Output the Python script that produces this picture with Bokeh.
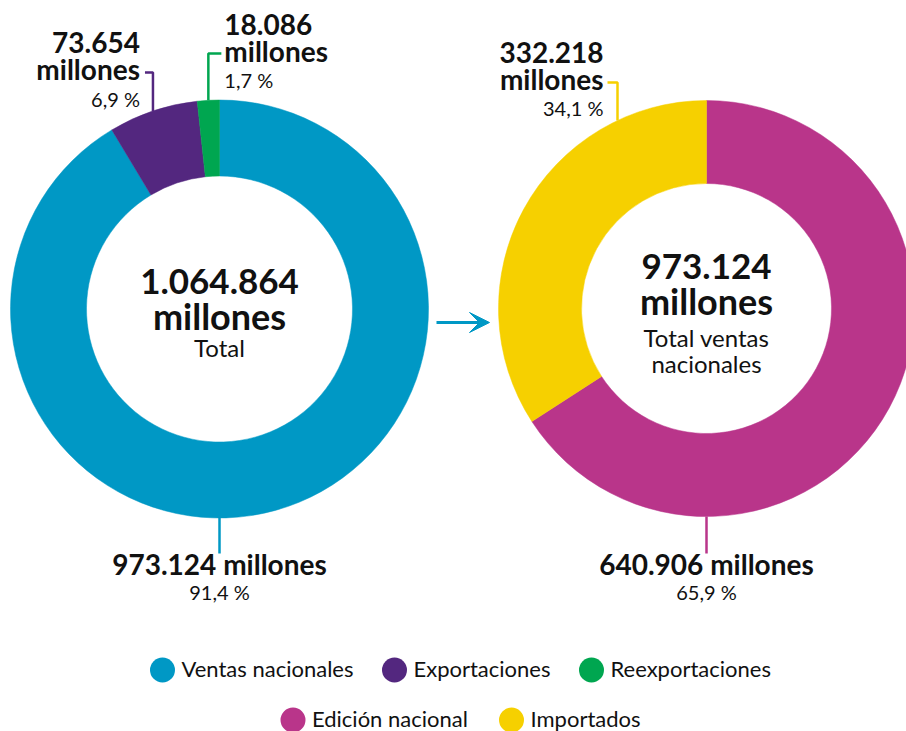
import math
from bokeh.plotting import figure
from bokeh.models import Range1d, ColumnDataSource, Arrow, VeeHead
from bokeh.core.properties import value
from bokeh.embed import file_html
from bokeh.resources import INLINE

# ---------------- data ----------------
left_labels = ["Ventas nacionales", "Exportaciones", "Reexportaciones"]
left_values = [973124, 73654, 18086]
left_colors = ["#0098c5", "#53277f", "#00a650"]
left_total_text = "1.064.864"

right_labels = ["Edición nacional", "Importados"]
right_values = [640906, 332218]
right_colors = ["#b9358a", "#f6d000"]
right_total_text = "973.124"

left_value_texts = ["973.124", "73.654", "18.086"]
left_pct_texts = ["91,4 %", "6,9 %", "1,7 %"]
right_value_texts = ["640.906", "332.218"]
right_pct_texts = ["65,9 %", "34,1 %"]

FONT = "Lato"
W, H = 906, 731
BASE_K = 0.41  # empirical baseline correction (fraction of font size)


def px(x):  # page x -> data x
    return x


def py(y):  # page y -> data y
    return H - y


p = figure(width=W, height=H, output_backend="svg", toolbar_location=None,
           x_range=Range1d(0, W), y_range=Range1d(0, H), min_border=0)
p.axis.visible = False
p.grid.visible = False
p.outline_line_color = None
p.background_fill_color = "white"
p.border_fill_color = "white"


def wedges(values, colors, cx, cy, r_in, r_out):
    total = float(sum(values))
    starts, ends = [], []
    cum = 0.0
    for v in values:
        starts.append(math.pi / 2 - 2 * math.pi * cum / total)
        cum += v
        ends.append(math.pi / 2 - 2 * math.pi * cum / total)
    src = ColumnDataSource(dict(x=[cx] * len(values), y=[cy] * len(values),
                                s=starts, e=ends, c=colors))
    p.annular_wedge(x="x", y="y", inner_radius=r_in, outer_radius=r_out,
                    start_angle="s", end_angle="e", direction="clock",
                    fill_color="c", line_color="c", line_width=0.5, source=src)
    return starts, ends


LCX, LCY, LR, LRI = px(219), py(308.5), 209, 133
RCX, RCY, RR, RRI = px(706), py(308), 208, 125

ls, le = wedges(left_values, left_colors, LCX, LCY, LRI, LR)
rs, re_ = wedges(right_values, right_colors, RCX, RCY, RRI, RR)


def txt(x, y_page_baseline, t, size, bold=False, align="center", color="#111111"):
    y = py(y_page_baseline) + BASE_K * size
    p.text(x=[x], y=[y], text=[t], text_font=value(FONT),
           text_font_size=f"{size}px", text_font_style="bold" if bold else "normal",
           text_align=align, text_baseline="alphabetic", text_color=color)


# ---- center texts ----
txt(LCX, 295, left_total_text, 35, True)
txt(LCX, 330, "millones", 36, True)
txt(LCX, 357, "Total", 24)

txt(RCX, 280, right_total_text, 35, True)
txt(RCX, 315, "millones", 36, True)
txt(RCX, 347, "Total ventas", 24)
txt(RCX, 373, "nacionales", 24)

# ---- bottom leaders (big slices, bottom point of ring) ----
for cx, cy, rr, col, vt, pt in [
        (LCX, LCY, LR, left_colors[0], left_value_texts[0], left_pct_texts[0]),
        (RCX, RCY, RR, right_colors[0], right_value_texts[0], right_pct_texts[0])]:
    p.line([cx, cx], [cy - rr, py(553)], line_color=col, line_width=2.5)
    txt(cx, 575, vt + " millones", 28, True)
    txt(cx, 600, pt, 20)


def mid_point(s, e, cx, cy, r):
    a = (s + e) / 2
    return cx + r * math.cos(a), cy + r * math.sin(a)


# ---- purple leader (Exportaciones) ----
mx, my = mid_point(ls[1], le[1], LCX, LCY, LR)
p.line([mx - 8, mx, mx], [py(72), py(72), my], line_color=left_colors[1], line_width=2.5)
txt(mx - 13, 53, left_value_texts[1], 28, True, "right")
txt(mx - 13, 80, "millones", 28, True, "right")
txt(mx - 13, 107, left_pct_texts[1], 20, False, "right")

# ---- green leader (Reexportaciones) ----
gx, gy = mid_point(ls[2], le[2], LCX, LCY, LR)
p.line([gx + 13, gx, gx], [py(53), py(53), gy], line_color=left_colors[2], line_width=2.5)
txt(gx + 16, 35, left_value_texts[2], 28, True, "left")
txt(gx + 16, 62, "millones", 28, True, "left")
txt(gx + 16, 88, left_pct_texts[2], 20, False, "left")

# ---- yellow leader (Importados) ----
yx = px(617)
yy = RCY + math.sqrt(RR ** 2 - (yx - RCX) ** 2)
p.line([yx - 10, yx, yx], [py(82), py(82), yy], line_color=right_colors[1], line_width=2.5)
txt(yx - 14, 63, right_value_texts[1], 28, True, "right")
txt(yx - 14, 90, "millones", 28, True, "right")
txt(yx - 14, 116, right_pct_texts[1], 20, False, "right")

# ---- arrow ----
p.add_layout(Arrow(x_start=px(436), y_start=py(322), x_end=px(489), y_end=py(322),
                   line_color="#0098c5", line_width=3,
                   end=VeeHead(size=20, fill_color="#0098c5", line_color="#0098c5")))

# ---- legend ----
leg_labels = left_labels + right_labels
leg_colors = left_colors + right_colors
leg_cx = [162, 394, 591, 292.5, 511]
leg_cy = [669.5, 669.5, 669.5, 719.5, 719.5]
p.scatter(x=[px(x) for x in leg_cx], y=[py(y) for y in leg_cy], size=25,
          marker="circle", fill_color=leg_colors, line_color=None)
LEG_SIZE = 22
p.text(x=[px(x) + 19 for x in leg_cx],
       y=[py(y + 7.5) + BASE_K * LEG_SIZE for y in leg_cy], text=leg_labels,
       text_font=value(FONT), text_font_size=f"{LEG_SIZE}px", text_align="left",
       text_baseline="alphabetic", text_color="#111111")

open("out.html", "w").write(file_html(p, INLINE))
